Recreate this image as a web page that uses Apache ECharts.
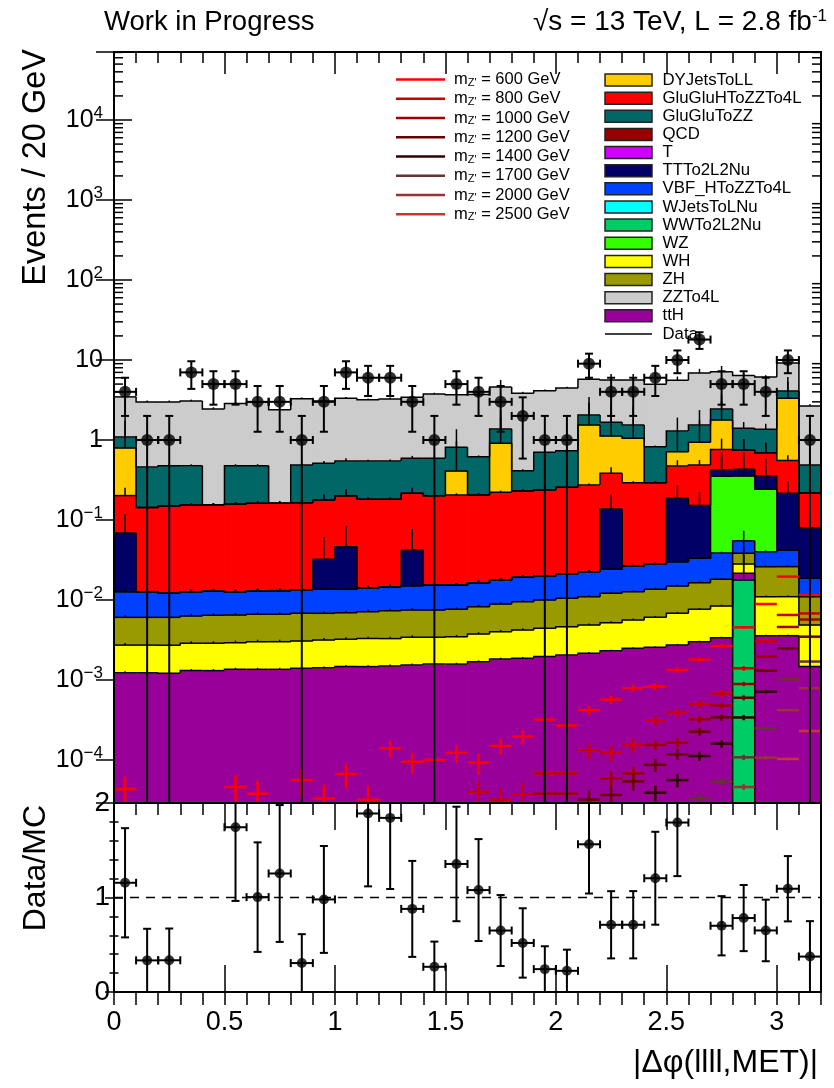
<!DOCTYPE html>
<html>
<head>
<meta charset="utf-8">
<script src="https://cdn.jsdelivr.net/npm/echarts@6/dist/echarts.min.js"></script>
<style>
html, body { margin: 0; padding: 0; background: #ffffff; }
#chart { width: 834px; height: 1088px; }
</style>
</head>
<body>
<div id="chart"></div>
<script>
// ---------------------------------------------------------------------------
// |Δφ(llll,MET)| distribution: 32 bins of width 0.1 between 0 and 3.2
// ---------------------------------------------------------------------------
const binLow = [0.0, 0.1, 0.2, 0.3, 0.4, 0.5, 0.6, 0.7, 0.8, 0.9, 1.0, 1.1, 1.2, 1.3, 1.4, 1.5,
                1.6, 1.7, 1.8, 1.9, 2.0, 2.1, 2.2, 2.3, 2.4, 2.5, 2.6, 2.7, 2.8, 2.9, 3.0, 3.1];
const BIN_W = 0.1;

// observed events per bin
const dataCounts = [4, 1, 1, 7, 5, 5, 3, 3, 1, 3, 7, 6, 6, 3, 1, 5, 4, 3, 2, 1, 1, 9, 4, 4, 6, 10, 18, 5, 5, 4, 10, 1];

// expected events per bin for each simulated sample
const WWTo2L2Nu = [0, 0, 0, 0, 0, 0, 0, 0, 0, 0, 0, 0, 0, 0, 0, 0, 0, 0, 0, 0, 0, 0, 0, 0, 0, 0, 0, 0, 0.0178, 0, 0, 0];
const ttH = [1.23e-3, 1.23e-3, 1.21e-3, 1.31e-3, 1.31e-3, 1.36e-3, 1.36e-3, 1.36e-3, 1.40e-3, 1.42e-3,
             1.47e-3, 1.47e-3, 1.50e-3, 1.54e-3, 1.58e-3, 1.58e-3, 1.69e-3, 1.83e-3, 1.87e-3, 1.96e-3,
             2.05e-3, 2.16e-3, 2.32e-3, 2.49e-3, 2.56e-3, 2.74e-3, 3.01e-3, 3.38e-3, 3.80e-3, 3.58e-3,
             3.58e-3, 1.47e-3];
const WH = [1.50e-3, 1.50e-3, 1.50e-3, 1.57e-3, 1.57e-3, 1.57e-3, 1.65e-3, 1.65e-3, 1.67e-3, 1.74e-3,
            1.76e-3, 1.82e-3, 1.79e-3, 1.88e-3, 1.83e-3, 1.89e-3, 2.07e-3, 2.19e-3, 2.35e-3, 2.47e-3,
            2.58e-3, 2.71e-3, 2.88e-3, 3.13e-3, 3.51e-3, 4.08e-3, 4.64e-3, 5.04e-3, 6.60e-3, 7.42e-3,
            7.42e-3, 3.40e-3];
const ZH = [3.34e-3, 3.34e-3, 3.36e-3, 3.43e-3, 3.56e-3, 3.57e-3, 3.62e-3, 3.62e-3, 3.75e-3, 3.66e-3,
            3.71e-3, 3.86e-3, 4.07e-3, 4.08e-3, 4.08e-3, 4.17e-3, 4.49e-3, 4.90e-3, 5.31e-3, 5.57e-3,
            5.86e-3, 6.13e-3, 6.93e-3, 7.08e-3, 7.53e-3, 8.14e-3, 8.80e-3, 9.74e-3, 1.02e-2, 1.51e-2,
            1.51e-2, 6.13e-3];
const VBF_HToZZTo4L = [6.62e-3, 6.62e-3, 6.26e-3, 6.39e-3, 6.41e-3, 6.21e-3, 6.44e-3, 6.44e-3, 6.52e-3, 6.79e-3,
                       6.67e-3, 6.99e-3, 7.31e-3, 7.59e-3, 7.90e-3, 7.75e-3, 8.20e-3, 8.87e-3, 9.69e-3, 9.95e-3,
                       1.06e-2, 1.16e-2, 1.21e-2, 1.39e-2, 1.46e-2, 1.52e-2, 1.68e-2, 2.05e-2, 1.68e-2, 1.41e-2,
                       1.61e-2, 7.84e-3];
const WZ = [0, 0, 0, 0, 0, 0, 0, 0, 0, 0, 0, 0, 0, 0, 0, 0, 0, 0, 0, 0, 0, 0, 0, 0, 0, 0, 0, 0.313, 0.300, 0.202, 0, 0];
const TTTo2L2Nu = [0.0561, 0, 0, 0, 0, 0, 0, 0, 0, 0.0187, 0.0328, 0, 0, 0.0271, 0, 0,
                   0, 0, 0, 0, 0, 0, 0.113, 0, 0, 0.157, 0.118, 0.070, 0.0755, 0.113, 0.174, 0.0606];
const GluGluHToZZTo4L = [0.133, 0.131, 0.137, 0.141, 0.141, 0.146, 0.149, 0.149, 0.151, 0.146,
                         0.155, 0.167, 0.167, 0.174, 0.186, 0.190, 0.189, 0.204, 0.211, 0.217,
                         0.235, 0.251, 0.246, 0.266, 0.264, 0.286, 0.336, 0.339, 0.320, 0.339,
                         0.339, 0.138];
const DYJetsToLL = [0.593, 0, 0, 0, 0, 0, 0, 0, 0, 0, 0, 0, 0, 0, 0, 0.204,
                    0, 0.687, 0, 0, 0, 1.27, 0.739, 0.758, 0, 0.241, 0.449, 1.02, 0, 0, 2.77, 0];
const GluGluToZZ = [0.296, 0.316, 0.328, 0.323, 0, 0.319, 0.316, 0, 0.323, 0.334,
                    0.345, 0.365, 0.365, 0.375, 0.389, 0.401, 0.413, 0.463, 0.183, 0.465,
                    0.479, 0.514, 0.542, 0.490, 0.532, 0.582, 0.604, 0.662, 0.650, 0.667,
                    0.776, 0.270];
const ZZTo4L = [2.37, 2.53, 2.50, 2.59, 2.29, 2.39, 2.51, 2.23, 2.78, 2.55,
                2.77, 2.63, 2.71, 2.82, 3.16, 2.88, 3.09, 3.24, 3.44, 3.43,
                3.73, 3.70, 3.96, 4.08, 4.16, 4.28, 5.36, 4.69, 4.99, 4.78,
                5.05, 2.18];
const QCD = [0, 0, 0, 0, 0, 0, 0, 0, 0, 0, 0, 0, 0, 0, 0, 0, 0, 0, 0, 0, 0, 0, 0, 0, 0, 0, 0, 0, 0, 0, 0, 0];
const T = [0, 0, 0, 0, 0, 0, 0, 0, 0, 0, 0, 0, 0, 0, 0, 0, 0, 0, 0, 0, 0, 0, 0, 0, 0, 0, 0, 0, 0, 0, 0, 0];
const WJetsToLNu = [0, 0, 0, 0, 0, 0, 0, 0, 0, 0, 0, 0, 0, 0, 0, 0, 0, 0, 0, 0, 0, 0, 0, 0, 0, 0, 0, 0, 0, 0, 0, 0];

// per-event weight of each sample (bin uncertainty = sqrt(weight * yield))
const eventWeight = {
  WWTo2L2Nu: 0.0178, ttH: 2.5e-6, WH: 1.7e-5, ZH: 3.7e-5, VBF_HToZZTo4L: 8.5e-5, WZ: 0.24,
  TTTo2L2Nu: 0.045, GluGluHToZZTo4L: 5.5e-4, DYJetsToLL: 1.5, GluGluToZZ: 1.1e-3, ZZTo4L: 6.5e-3,
  QCD: 0, T: 0, WJetsToLNu: 0
};

// Z' signal hypotheses (null: nothing inside the plotted range)
const sigM600 = [4.3e-5, null, null, null, null, 4.6e-5, 3.8e-5, null, 5.6e-5, 3.3e-5,
                 6.7e-5, 3.2e-5, 1.4e-4, 9.5e-5, 1.0e-4, 1.23e-4, 9.3e-5, 1.5e-4, 1.96e-4, 3.2e-4,
                 2.7e-4, 4.2e-4, 5.7e-4, 7.9e-4, 8.3e-4, 1.33e-3, 1.8e-3, 2.66e-3, 4.55e-3, 8.9e-3,
                 1.96e-2, 1.16e-2];
const sigM800 = [null, null, null, null, null, null, null, null, null, null,
                 null, null, null, null, null, null, 4.0e-5, 3.2e-5, 3.7e-5, 6.8e-5,
                 6.8e-5, 1.31e-4, 1.23e-4, 1.54e-4, 3.1e-4, 3.9e-4, 5.0e-4, 6.8e-4, 1.40e-3, 3.05e-3,
                 6.5e-3, 6.8e-3];
const sigM1000 = [null, null, null, null, null, null, null, null, null, null,
                  null, null, null, null, null, null, null, null, null, 3.8e-5,
                  3.8e-5, null, 5.9e-5, 6.8e-5, 1.54e-4, 1.65e-4, 3.22e-4, 4.8e-4, 8.9e-4, 1.96e-3,
                  4.6e-3, 5.7e-3];
const sigM1200 = [null, null, null, null, null, null, null, null, null, null,
                  null, null, null, null, null, null, null, null, null, null,
                  null, 3.2e-5, 3.65e-5, 5.4e-5, 8.7e-5, 1.18e-4, 2.26e-4, 3.41e-4, 6.0e-4, 1.31e-3,
                  2.49e-3, 3.48e-3];
const sigM1400 = [null, null, null, null, null, null, null, null, null, null,
                  null, null, null, null, null, null, null, null, null, null,
                  null, null, null, null, 3.9e-5, 5.6e-5, 1.12e-4, 1.6e-4, 3.4e-4, 7.15e-4,
                  null, null];
const sigM1700 = [null, null, null, null, null, null, null, null, null, null,
                  null, null, null, null, null, null, null, null, null, null,
                  null, null, null, null, null, null, 3.3e-5, 5.4e-5, 1.08e-4, 2.49e-4,
                  1.02e-3, 1.70e-3];
const sigM2000 = [null, null, null, null, null, null, null, null, null, null,
                  null, null, null, null, null, null, null, null, null, null,
                  null, null, null, null, null, null, null, null, 4.6e-5, 1.07e-4,
                  4.2e-4, 7.9e-4];
const sigM2500 = [null, null, null, null, null, null, null, null, null, null,
                  null, null, null, null, null, null, null, null, null, null,
                  null, null, null, null, null, null, null, null, null, null,
                  1.03e-4, 2.3e-4];

// axis ranges and tick labels
const Y_MIN = 2.9e-5, Y_MAX = 7.08e4;
const RATIO_MIN = 0, RATIO_MAX = 2;
const xTickLabels = ['0', '0.5', '1', '1.5', '2', '2.5', '3'];

// ---------------------------------------------------------------------------
// styling
// ---------------------------------------------------------------------------
const FONT = '"Liberation Sans", Arial, Helvetica, sans-serif';
const sampleColor = {
  DYJetsToLL: '#ffcc00', GluGluHToZZTo4L: '#ff0000', GluGluToZZ: '#006666', QCD: '#990000',
  T: '#cc00ff', TTTo2L2Nu: '#000066', VBF_HToZZTo4L: '#0040ff', WJetsToLNu: '#00ffff',
  WWTo2L2Nu: '#00cc66', WZ: '#33ff00', WH: '#ffff00', ZH: '#999900', ZZTo4L: '#cccccc', ttH: '#990099'
};
const legendSamples = ['DYJetsToLL', 'GluGluHToZZTo4L', 'GluGluToZZ', 'QCD', 'T', 'TTTo2L2Nu',
  'VBF_HToZZTo4L', 'WJetsToLNu', 'WWTo2L2Nu', 'WZ', 'WH', 'ZH', 'ZZTo4L', 'ttH'];

// stacking order, bottom to top
const stack = [
  ['WWTo2L2Nu', WWTo2L2Nu], ['ttH', ttH], ['WH', WH], ['ZH', ZH], ['VBF_HToZZTo4L', VBF_HToZZTo4L],
  ['WZ', WZ], ['TTTo2L2Nu', TTTo2L2Nu], ['GluGluHToZZTo4L', GluGluHToZZTo4L], ['DYJetsToLL', DYJetsToLL],
  ['GluGluToZZ', GluGluToZZ], ['ZZTo4L', ZZTo4L], ['QCD', QCD], ['T', T], ['WJetsToLNu', WJetsToLNu]
];

const signals = [
  { mass: 600,  color: '#ff0000', values: sigM600,  w: 8e-6 },
  { mass: 800,  color: '#cc0000', values: sigM800,  w: 6e-6 },
  { mass: 1000, color: '#a00000', values: sigM1000, w: 3e-6 },
  { mass: 1200, color: '#660000', values: sigM1200, w: 3e-6 },
  { mass: 1400, color: '#330000', values: sigM1400, w: 2e-6 },
  { mass: 1700, color: '#663333', values: sigM1700, w: 6e-7 },
  { mass: 2000, color: '#993333', values: sigM2000, w: 3e-7 },
  { mass: 2500, color: '#cc3333', values: sigM2500, w: 1.5e-7 }
];

// cumulative stack tops and cumulative squared uncertainties
const cumTop = [], cumVar = [];
stack.forEach(([name, vals], k) => {
  cumTop.push(vals.map((v, i) => (k ? cumTop[k - 1][i] : 0) + v));
  cumVar.push(vals.map((v, i) => (k ? cumVar[k - 1][i] : 0) + eventWeight[name] * v));
});
const totalMC = cumTop[cumTop.length - 1];
const clampLog = v => Math.max(v, Y_MIN);

// ---------------------------------------------------------------------------
// series
// ---------------------------------------------------------------------------
const series = [];
const line = (a, b, style) => ({ type: 'line', shape: { x1: a[0], y1: a[1], x2: b[0], y2: b[1] }, style });

// log-axis sub-divisions (2..9 per decade) on both vertical edges of the upper frame
const minorLogTicks = [];
for (let e = -5; e <= 4; e++) {
  for (let m = 2; m <= 9; m++) {
    const v = m * Math.pow(10, e);
    if (v > Y_MIN && v < Y_MAX) minorLogTicks.push([0, v]);
  }
}
series.push({
  type: 'custom', name: 'minorTicks', xAxisIndex: 0, yAxisIndex: 0, z: 1, silent: true,
  data: minorLogTicks,
  renderItem: (params, api) => {
    const pl = api.coord([0, api.value(1)]);
    const pr = api.coord([3.2, api.value(1)]);
    const st = { stroke: '#000', lineWidth: 1.5 };
    return { type: 'group', children: [
      line(pl, [pl[0] + 9, pl[1]], st), line(pr, [pr[0] - 9, pr[1]], st)] };
  }
});

// filled stack components (each bin slightly widened so neighbouring fills leave no seam)
stack.forEach(([name], k) => {
  const items = [];
  binLow.forEach((x, i) => {
    const lo = k ? cumTop[k - 1][i] : 0;
    const hi = cumTop[k][i];
    if (hi > lo) items.push([x, x + BIN_W, clampLog(lo), hi]);
  });
  series.push({
    type: 'custom', name, xAxisIndex: 0, yAxisIndex: 0, z: 2, clip: true, silent: true,
    encode: { x: [0, 1], y: [2, 3] },
    data: items,
    renderItem: (params, api) => {
      const p0 = api.coord([api.value(0), api.value(2)]);
      const p1 = api.coord([api.value(1), api.value(3)]);
      return { type: 'rect',
               shape: { x: p0[0] - 0.4, y: p1[1], width: p1[0] - p0[0] + 0.8, height: p0[1] - p1[1] + 0.4 },
               style: { fill: sampleColor[name] } };
    }
  });
});

// histogram outlines of every cumulative layer, with its upward statistical bar
const outlineItems = [];
stack.forEach(([name], k) => {
  if (!stack[k][1].some(v => v > 0)) return;
  binLow.forEach((x, i) => {
    const top = cumTop[k][i];
    const prev = i ? cumTop[k][i - 1] : top;
    outlineItems.push([x, x + BIN_W, clampLog(top), clampLog(prev), top + Math.sqrt(cumVar[k][i])]);
  });
});
series.push({
  type: 'custom', name: 'stackOutline', xAxisIndex: 0, yAxisIndex: 0, z: 3, clip: true, silent: true,
  encode: { x: [0, 1], y: [2, 3] },
  data: outlineItems,
  renderItem: (params, api) => {
    const x0 = api.value(0), x1 = api.value(1), top = api.value(2), prev = api.value(3), err = api.value(4);
    const a = api.coord([x0, prev]), b = api.coord([x0, top]), c = api.coord([x1, top]);
    const st = { stroke: '#000', lineWidth: 1.5, fill: null };
    const children = [{ type: 'polyline', shape: { points: [a, b, c] }, style: st }];
    if (err > top) {
      const xc = (x0 + x1) / 2;
      children.push(line(api.coord([xc, top]), api.coord([xc, err]), st));
    }
    return { type: 'group', children };
  }
});

// signal hypotheses: bin-width horizontal segment with vertical uncertainty
signals.forEach(sig => {
  const items = [];
  sig.values.forEach((v, i) => {
    if (v == null) return;
    const e = Math.sqrt(sig.w * v);
    items.push([binLow[i], binLow[i] + BIN_W, v, clampLog(v - e), v + e]);
  });
  series.push({
    type: 'custom', name: "m_Z' = " + sig.mass + ' GeV', xAxisIndex: 0, yAxisIndex: 0, z: 4, clip: true, silent: true,
    encode: { x: [0, 1], y: [2, 3] },
    data: items,
    renderItem: (params, api) => {
      const x0 = api.value(0), x1 = api.value(1), v = api.value(2);
      const xc = (x0 + x1) / 2;
      const st = { stroke: sig.color, lineWidth: 2.5 };
      return { type: 'group', children: [
        line(api.coord([x0, v]), api.coord([x1, v]), st),
        line(api.coord([xc, api.value(3)]), api.coord([xc, api.value(4)]), st)] };
    }
  });
});

// error bars with end caps (shared by the data and ratio panels)
function errorBarItem(floor) {
  return (params, api) => {
    const xc = api.value(0), y = api.value(1), lo = api.value(2), hi = api.value(3);
    const st = { stroke: '#000', lineWidth: 2 };
    const pl = api.coord([xc - BIN_W / 2, y]), pr = api.coord([xc + BIN_W / 2, y]);
    const pHi = api.coord([xc, hi]), pLo = api.coord([xc, lo]);
    const cap = 4;
    const children = [
      line(pHi, pLo, st),
      line([pHi[0] - cap, pHi[1]], [pHi[0] + cap, pHi[1]], st),
      line(pl, pr, st),
      line([pl[0], pl[1] - cap], [pl[0], pl[1] + cap], st),
      line([pr[0], pr[1] - cap], [pr[0], pr[1] + cap], st)
    ];
    if (lo > floor) children.push(line([pLo[0] - cap, pLo[1]], [pLo[0] + cap, pLo[1]], st));
    return { type: 'group', children };
  };
}

const dataPoints = dataCounts.map((n, i) => [binLow[i] + BIN_W / 2, n]);
series.push({
  type: 'custom', name: 'Data errors', xAxisIndex: 0, yAxisIndex: 0, z: 5, clip: true, silent: true,
  encode: { x: 0, y: [1, 2, 3] },
  data: dataCounts.map((n, i) => [binLow[i] + BIN_W / 2, n, clampLog(n - Math.sqrt(n)), n + Math.sqrt(n)]),
  renderItem: errorBarItem(Y_MIN)
});
series.push({
  type: 'scatter', name: 'Data', xAxisIndex: 0, yAxisIndex: 0, z: 6, silent: true,
  symbol: 'circle', symbolSize: 12, itemStyle: { color: '#000' }, data: dataPoints
});

// ratio panel: data / total expectation
const ratioItems = [], ratioErrItems = [];
dataCounts.forEach((n, i) => {
  const r = n / totalMC[i];
  if (r > RATIO_MAX) return;
  const e = Math.sqrt(n) / totalMC[i];
  ratioItems.push([binLow[i] + BIN_W / 2, r]);
  ratioErrItems.push([binLow[i] + BIN_W / 2, r, Math.max(r - e, 0), r + e]);
});
series.push({
  type: 'line', name: 'unity', xAxisIndex: 3, yAxisIndex: 2, z: 3, silent: true, symbol: 'none',
  data: [[0, 1], [3.2, 1]], lineStyle: { color: '#000', width: 1.5, type: [9, 7] }
});
series.push({
  type: 'custom', name: 'Ratio errors', xAxisIndex: 3, yAxisIndex: 2, z: 5, clip: true, silent: true,
  encode: { x: 0, y: [1, 2, 3] },
  data: ratioErrItems,
  renderItem: errorBarItem(0)
});
series.push({
  type: 'scatter', name: 'Ratio', xAxisIndex: 3, yAxisIndex: 2, z: 6, silent: true,
  symbol: 'circle', symbolSize: 10, itemStyle: { color: '#000' }, data: ratioItems
});

// ---------------------------------------------------------------------------
// axes
// ---------------------------------------------------------------------------
const tick = len => ({ show: true, inside: true, length: len, lineStyle: { color: '#000', width: 1.5 } });
const xBase = { type: 'value', min: 0, max: 3.2, axisLine: { show: false }, splitLine: { show: false },
                axisLabel: { show: false }, axisTick: { show: false } };
const xAxes = [
  Object.assign({}, xBase, { gridIndex: 0, interval: 0.5 }),
  Object.assign({}, xBase, { gridIndex: 0, position: 'top', interval: 0.1, axisTick: tick(11) }),
  Object.assign({}, xBase, { gridIndex: 0, position: 'top', interval: 0.5, axisTick: tick(22) }),
  Object.assign({}, xBase, { gridIndex: 1, interval: 0.5, axisTick: tick(27),
    axisLabel: { show: true, color: '#000', fontFamily: FONT, fontSize: 27, margin: 17, showMaxLabel: false,
      formatter: v => { const k = Math.round(v * 2); return Math.abs(v * 2 - k) < 1e-6 && k <= 6 ? xTickLabels[k] : ''; } } }),
  Object.assign({}, xBase, { gridIndex: 1, interval: 0.1, axisTick: tick(13) }),
  Object.assign({}, xBase, { gridIndex: 1, position: 'top', interval: 0.5, axisTick: tick(27) }),
  Object.assign({}, xBase, { gridIndex: 1, position: 'top', interval: 0.1, axisTick: tick(12) })
];

const logLabel = v => {
  const e = Math.round(Math.log10(v));
  if (Math.abs(v / Math.pow(10, e) - 1) > 1e-6) return '';
  if (e === 0) return '1';
  if (e === 1) return '10';
  return '10{s|' + (e < 0 ? '\u2212' + (-e) : e) + '}';
};
const yAxes = [
  { type: 'log', gridIndex: 0, logBase: 10, min: Y_MIN, max: Y_MAX, splitNumber: 10,
    axisLine: { show: false }, splitLine: { show: false }, axisTick: tick(18),
    axisLabel: { show: true, color: '#000', fontFamily: FONT, fontSize: 25, margin: 11, lineHeight: 30,
      formatter: logLabel,
      rich: { s: { fontFamily: FONT, fontSize: 17, color: '#000', verticalAlign: 'top', lineHeight: 16 } } } },
  { type: 'log', gridIndex: 0, logBase: 10, min: Y_MIN, max: Y_MAX, splitNumber: 10, position: 'right',
    axisLine: { show: false }, splitLine: { show: false }, axisTick: tick(18), axisLabel: { show: false } },
  { type: 'value', gridIndex: 1, min: RATIO_MIN, max: RATIO_MAX, interval: 1,
    axisLine: { show: false }, splitLine: { show: false }, axisTick: tick(9),
    minorTick: { show: true, splitNumber: 5, length: 4.5, lineStyle: { color: '#000', width: 1.5 } },
    axisLabel: { show: true, color: '#000', fontFamily: FONT, fontSize: 28, margin: 4 } },
  { type: 'value', gridIndex: 1, min: RATIO_MIN, max: RATIO_MAX, interval: 1, position: 'right',
    axisLine: { show: false }, splitLine: { show: false }, axisTick: tick(9),
    minorTick: { show: true, splitNumber: 5, length: 4.5, lineStyle: { color: '#000', width: 1.5 } },
    axisLabel: { show: false } }
];

// ---------------------------------------------------------------------------
// frames, titles and legend
// ---------------------------------------------------------------------------
const G = { left: 114, width: 707, mainTop: 52, mainH: 751, ratioTop: 803, ratioH: 189 };
const txt = (x, y, text, size, extra) => ({
  type: 'text', x, y, z: 100, silent: true,
  style: Object.assign({ text, fontFamily: FONT, fontSize: size, fill: '#000', align: 'left', verticalAlign: 'middle' }, extra || {})
});
const graphics = [
  { type: 'rect', z: 100, silent: true, shape: { x: G.left, y: G.mainTop, width: G.width, height: G.mainH },
    style: { fill: null, stroke: '#000', lineWidth: 2 } },
  { type: 'rect', z: 100, silent: true, shape: { x: G.left, y: G.ratioTop, width: G.width, height: G.ratioH },
    style: { fill: null, stroke: '#000', lineWidth: 2 } },
  txt(104, 22, 'Work in Progress', 27.5),
  txt(827, 22, '\u221As = 13 TeV, L = 2.8 fb{sup|-1}', 28, { align: 'right',
    rich: { sup: { fontFamily: FONT, fontSize: 17, fill: '#000', verticalAlign: 'top', lineHeight: 14 } } }),
  Object.assign(txt(36, 49, 'Events / 20 GeV', 32.5, { align: 'right' }), { rotation: Math.PI / 2 }),
  Object.assign(txt(36, 805, 'Data/MC', 32, { align: 'right' }), { rotation: Math.PI / 2 }),
  txt(818, 1063, '|\u0394\u03C6(llll,MET)|', 32, { align: 'right' })
];

// signal legend column
signals.forEach((sig, k) => {
  const y = 79.5 + 19.25 * k;
  graphics.push({ type: 'line', z: 100, silent: true, shape: { x1: 396, y1: y, x2: 445, y2: y },
                  style: { stroke: sig.color, lineWidth: 2.5 } });
  graphics.push(txt(454, y, '{m|m}{z|Z\'}{m| = ' + sig.mass + ' GeV}', 16.5, {
    rich: { m: { fontFamily: FONT, fontSize: 16.5, fill: '#000' },
            z: { fontFamily: FONT, fontSize: 11, fill: '#000', verticalAlign: 'bottom', lineHeight: 12 } } }));
});
// sample legend column
legendSamples.forEach((name, k) => {
  const y = 80 + 18.14 * k;
  graphics.push({ type: 'rect', z: 100, silent: true, shape: { x: 605, y: y - 6, width: 47, height: 12 },
                  style: { fill: sampleColor[name], stroke: '#222', lineWidth: 1.5 } });
  graphics.push(txt(662.5, y, name, 16.8));
});
{
  const y = 80 + 18.14 * legendSamples.length;
  graphics.push({ type: 'line', z: 100, silent: true, shape: { x1: 605, y1: y, x2: 652, y2: y },
                  style: { stroke: '#000', lineWidth: 1.5 } });
  graphics.push(txt(662.5, y, 'Data', 16.8));
}

const chart = echarts.init(document.getElementById('chart'), null, { renderer: 'canvas' });
chart.setOption({
  animation: false,
  backgroundColor: '#ffffff',
  grid: [
    { left: G.left, top: G.mainTop, width: G.width, height: G.mainH, outerBoundsMode: 'none', containLabel: false },
    { left: G.left, top: G.ratioTop, width: G.width, height: G.ratioH, outerBoundsMode: 'none', containLabel: false }
  ],
  xAxis: xAxes,
  yAxis: yAxes,
  series,
  graphic: { elements: graphics }
});
</script>
</body>
</html>
